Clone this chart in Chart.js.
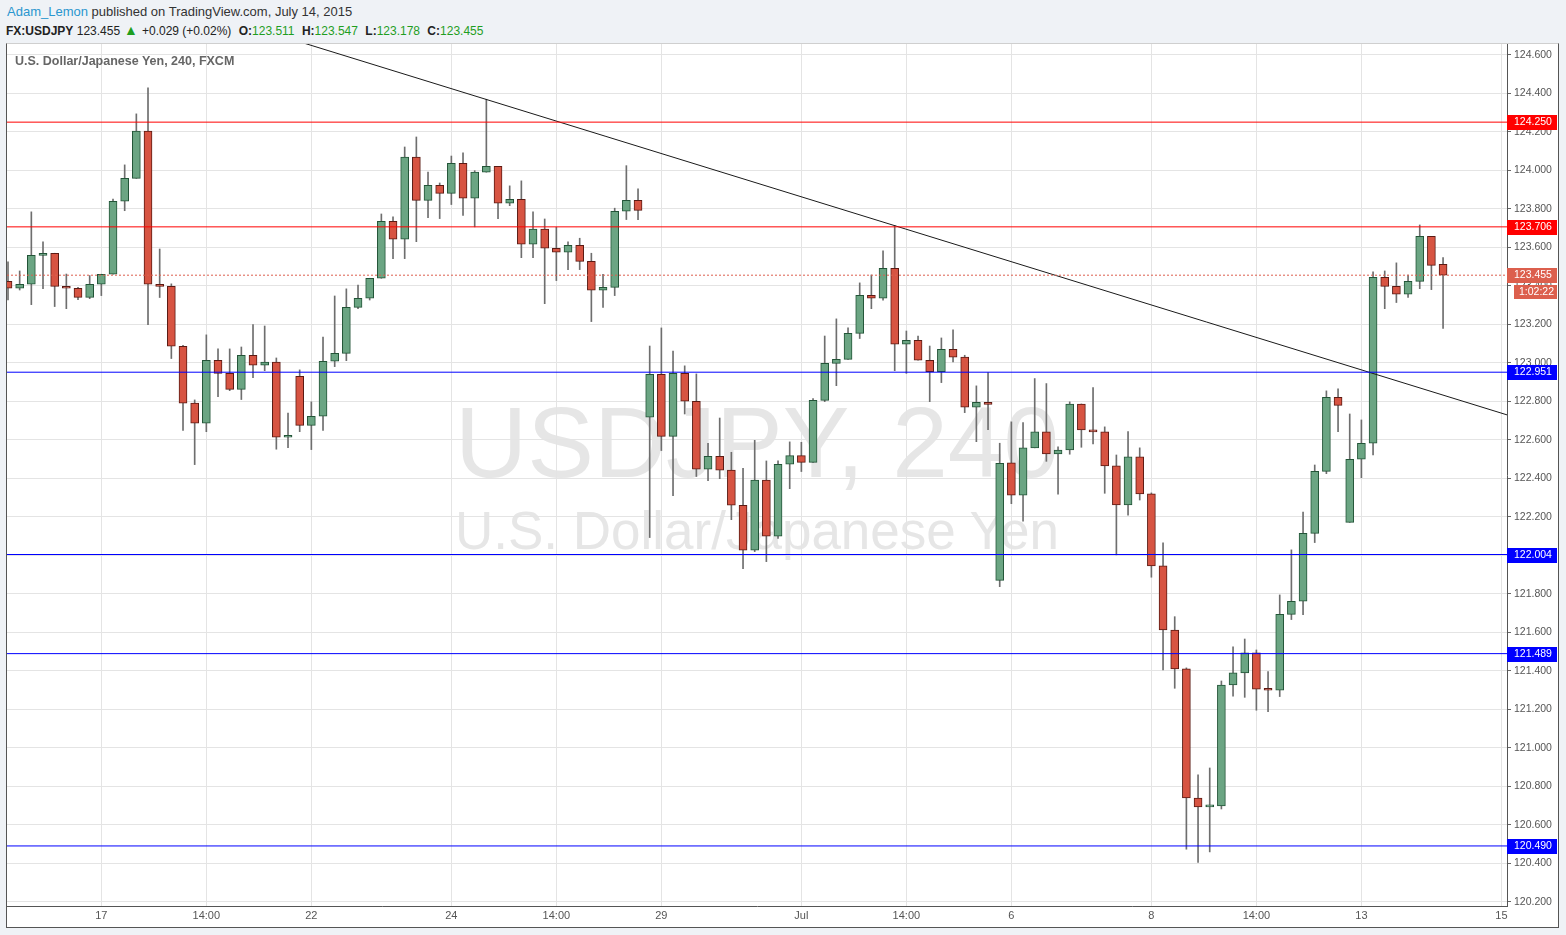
<!DOCTYPE html>
<html><head><meta charset="utf-8">
<script src="https://cdn.jsdelivr.net/npm/chart.js@4.4.0/dist/chart.umd.min.js"></script>
<style>
html,body{margin:0;padding:0;}
body{width:1566px;height:935px;background:#eff2f6;position:relative;overflow:hidden;font-family:"Liberation Sans",Arial,sans-serif;}
#h1{position:absolute;left:7px;top:5px;font-size:13px;line-height:13px;color:#333;white-space:nowrap;}
#h1 .user{color:#2a96cf;}
#h2{position:absolute;left:6px;top:24px;font-size:12px;line-height:12px;color:#222;white-space:nowrap;}
#h2 span{margin-right:4px;}
#h2 .g{color:#1f9e1f;}
#h2 .tri{color:#1f9e1f;font-size:14px;line-height:12px;}
#box{position:absolute;left:6px;top:43px;width:1551px;height:883px;border:1px solid #555;border-top-color:#cfcfcf;background:#fff;}
.wm{position:absolute;left:0;width:1500px;text-align:center;white-space:nowrap;color:#e6e6e6;}
#wm1{font-size:100px;line-height:100px;top:348px;}
#wm2{font-size:53px;line-height:53px;top:460px;}
#title{position:absolute;left:8px;top:11px;font-size:12.5px;line-height:12px;font-weight:bold;color:#666;white-space:nowrap;z-index:3;}
#c{position:absolute;left:0;top:0;z-index:2;}
</style></head>
<body>
<div id="h1"><span class="user">Adam_Lemon</span> published on TradingView.com, July 14, 2015</div>
<div id="h2"><b>FX:USDJPY</b> <span>123.455</span><span class="tri">▲</span><span>+0.029 (+0.02%)</span> <b>O:</b><span class="g">123.511</span> <b>H:</b><span class="g">123.547</span> <b>L:</b><span class="g">123.178</span> <b>C:</b><span class="g">123.455</span></div>
<div id="box">
  <div class="wm" id="wm1">USDJPY, 240</div>
  <div class="wm" id="wm2">U.S. Dollar/Japanese Yen</div>
  <div id="title">U.S. Dollar/Japanese Yen, 240, FXCM</div>
  <canvas id="c" width="1551" height="883"></canvas>
</div>
<script>
// ---- data ----
const opens = [
123.423,123.387,123.408,123.558,123.569,123.397,123.387,123.340,123.408,123.460,
123.839,123.958,124.203,123.408,123.397,123.086,122.790,122.686,123.013,122.945,
122.862,123.039,122.987,123.003,122.613,122.930,122.675,122.722,123.008,123.049,
123.288,123.335,123.439,123.735,123.642,124.068,123.844,123.922,123.880,124.036,
123.855,123.990,124.021,123.829,123.849,123.616,123.694,123.595,123.574,123.610,
123.527,123.377,123.392,123.787,123.844,122.717,122.940,122.618,122.945,122.800,
122.447,122.514,122.442,122.260,122.026,122.390,122.099,122.473,122.518,122.483,
122.805,122.997,123.018,123.153,123.351,123.335,123.491,123.096,123.117,123.013,
122.954,123.070,123.029,122.769,122.795,121.870,122.480,122.312,122.558,122.641,
122.526,122.547,122.786,122.651,122.641,122.464,122.261,122.511,122.319,121.945,
121.612,121.410,120.739,120.693,120.698,121.326,121.389,121.493,121.304,121.299,
121.693,121.761,122.114,122.436,122.821,122.171,122.499,122.582,123.444,123.397,
123.356,123.423,123.657,123.511];
const highs = [
123.524,123.477,123.784,123.628,123.569,123.461,123.392,123.453,123.460,123.851,
124.028,124.293,124.428,123.591,123.410,123.091,122.807,123.145,123.072,123.072,
123.082,123.198,123.191,123.025,122.739,122.963,122.797,123.134,123.347,123.384,
123.404,123.439,123.773,123.758,124.121,124.173,123.991,123.934,124.074,124.090,
123.998,124.369,124.021,123.919,123.945,123.784,123.747,123.704,123.628,123.647,
123.569,123.460,123.803,124.024,123.903,123.087,123.181,123.061,122.984,122.942,
122.582,122.713,122.535,122.452,122.597,122.490,122.490,122.589,122.587,122.814,
123.139,123.228,123.181,123.415,123.456,123.581,123.713,123.165,123.139,123.087,
123.129,123.171,123.039,122.880,122.949,122.582,122.693,122.689,122.918,122.892,
122.563,122.797,122.786,122.871,122.667,122.521,122.642,122.558,122.324,122.064,
121.681,121.415,120.859,120.895,121.347,121.524,121.565,121.508,121.396,121.794,
122.028,122.225,122.469,122.854,122.864,122.734,122.703,123.472,123.477,123.519,
123.455,123.716,123.657,123.547];
const lows = [
123.326,123.378,123.302,123.385,123.292,123.281,123.328,123.333,123.349,123.460,
123.790,123.958,123.198,123.339,123.022,122.648,122.471,122.642,122.824,122.855,
122.809,122.923,122.959,122.551,122.559,122.642,122.549,122.648,122.980,123.011,
123.281,123.326,123.439,123.541,123.541,123.629,123.754,123.749,123.822,123.765,
123.706,123.990,123.749,123.816,123.546,123.546,123.307,123.427,123.484,123.484,
123.214,123.287,123.349,123.744,123.744,122.092,122.544,122.310,122.734,122.409,
122.388,122.398,122.185,121.931,122.019,121.967,122.088,122.346,122.435,122.483,
122.798,122.881,123.018,123.126,123.281,123.325,122.959,122.945,123.013,122.798,
122.897,123.004,122.741,122.590,122.653,121.837,122.268,122.177,122.558,122.488,
122.317,122.525,122.561,122.578,122.322,122.002,122.208,122.287,121.886,121.404,
121.309,120.473,120.405,120.459,120.682,121.268,121.262,121.195,121.188,121.266,
121.666,121.692,122.066,122.424,122.642,122.171,122.403,122.521,123.281,123.313,
123.339,123.385,123.380,123.178];
const closes = [
123.387,123.408,123.558,123.569,123.397,123.387,123.340,123.408,123.460,123.839,
123.958,124.203,123.408,123.397,123.086,122.790,122.686,123.013,122.945,122.862,
123.039,122.987,123.003,122.613,122.618,122.675,122.722,123.008,123.049,123.288,
123.335,123.439,123.735,123.642,124.068,123.844,123.922,123.880,124.036,123.855,
123.990,124.021,123.829,123.849,123.616,123.694,123.595,123.574,123.610,123.527,
123.377,123.392,123.787,123.844,123.792,122.940,122.618,122.945,122.800,122.447,
122.514,122.442,122.260,122.026,122.390,122.099,122.473,122.518,122.483,122.805,
122.997,123.018,123.153,123.351,123.335,123.491,123.096,123.117,123.013,122.954,
123.070,123.029,122.769,122.795,122.784,122.478,122.312,122.558,122.641,122.526,
122.547,122.786,122.651,122.641,122.464,122.261,122.511,122.319,121.945,121.612,
121.410,120.739,120.693,120.698,121.326,121.389,121.493,121.304,121.299,121.693,
121.761,122.114,122.436,122.821,122.779,122.499,122.582,123.444,123.397,123.356,
123.423,123.657,123.506,123.455];

const xTickIdx    = [8, 17, 26, 38, 47, 56, 68, 77, 86, 98, 107, 116, 128];
const xTickLabels = ["17","14:00","22","24","14:00","29","Jul","14:00","6","8","14:00","13","15"];
const yTicks = [120.2,120.4,120.6,120.8,121.0,121.2,121.4,121.6,121.8,122.0,122.2,122.4,122.6,122.8,123.0,123.2,123.4,123.6,123.8,124.0,124.2,124.4,124.6];

const levels = [124.250, 123.706, 122.951, 122.004, 121.489, 120.490];
const lastPrice = 123.455;
const countdown = "1:02:22";
const trendX = [25.4, 128.5];
const trendY = [124.660, 122.729];

// ---- styles / view ----
const xMin = -0.086, xMax = 128.48;
const yMin = 120.178, yMax = 124.656;
const levelColors = ['#ff0000','#ff0000','#0000ff','#0000ff','#0000ff','#0000ff'];
const lastColor = '#dc5f4d';
const upFill = '#6ba583', upLine = '#225437';
const dnFill = '#d75442', dnLine = '#5b1a13';

const isUp = closes.map((c,i)=>c>=opens[i]);
const wickData = highs.map((h,i)=>({x:i, y:[lows[i], h]}));
const bodyData = opens.map((o,i)=>({x:i, y:[o, closes[i]]}));

const lineDatasets = levels.map((v,i)=>({
  type:'line', data:[{x:xMin,y:v},{x:xMax,y:v}], borderColor:levelColors[i],
  borderWidth:1, pointRadius:0, order:0, fill:false
}));
lineDatasets.push({type:'line', data:[{x:xMin,y:lastPrice},{x:xMax,y:lastPrice}], borderColor:lastColor,
  borderWidth:1, borderDash:[2,2], pointRadius:0, order:0, fill:false});
lineDatasets.push({type:'line', data:trendX.map((x,i)=>({x:x,y:trendY[i]})), borderColor:'#1a1a1a',
  borderWidth:1, pointRadius:0, order:0, fill:false});

const axisFont = {family:'"Liberation Sans", Arial, sans-serif', size:10.5};

const labelPlugin = {
  id:'levelLabels',
  afterDraw(chart){
    const ctx = chart.ctx, ys = chart.scales.y, ca = chart.chartArea;
    ctx.save();
    ctx.font = '10.5px "Liberation Sans", Arial, sans-serif';
    ctx.textBaseline = 'middle';
    const drawBox = (y, col, txt) => {
      ctx.fillStyle = col;
      ctx.fillRect(ca.right, Math.round(y) - 7, 50, 15);
      ctx.fillStyle = '#fff';
      ctx.fillText(txt, ca.right + 7, Math.round(y) + 0.5);
    };
    levels.forEach((v,i)=>{ drawBox(ys.getPixelForValue(v), levelColors[i], v.toFixed(3)); });
    const yl = ys.getPixelForValue(lastPrice);
    drawBox(yl, lastColor, lastPrice.toFixed(3));
    ctx.fillStyle = lastColor;
    ctx.fillRect(ca.right + 7, Math.round(yl) + 10, 43, 14);
    ctx.fillStyle = '#fff';
    ctx.fillText(countdown, ca.right + 12, Math.round(yl) + 17.5);
    ctx.restore();
  }
};

new Chart(document.getElementById('c'), {
  type:'bar',
  data:{
    datasets:[
      ...lineDatasets,
      {type:'bar', data:bodyData, grouped:false, barThickness:8, order:1,
       backgroundColor:isUp.map(u=>u?upFill:dnFill), borderColor:isUp.map(u=>u?upLine:dnLine),
       borderWidth:1, borderSkipped:false, minBarLength:2},
      {type:'bar', data:wickData, grouped:false, barThickness:1, order:2,
       backgroundColor:'#6e6e6e', borderWidth:0}
    ]
  },
  options:{
    responsive:false, animation:false, events:[],
    layout:{padding:0},
    plugins:{legend:{display:false}, tooltip:{enabled:false}, title:{display:false}},
    scales:{
      x:{type:'linear', position:'bottom', min:xMin, max:xMax, offset:false,
         grid:{offset:false, color:'#e4e4e4', drawTicks:false},
         border:{color:'#555', width:1},
         afterBuildTicks:(s)=>{ s.ticks = xTickIdx.map(v=>({value:v})); },
         afterFit:(s)=>{ s.height = 21; s.paddingLeft = 0; s.paddingRight = 0; },
         ticks:{autoSkip:false, maxRotation:0, padding:3, color:'#555',
                font:{family:'"Liberation Sans", Arial, sans-serif', size:11},
                callback:(v,i)=>xTickLabels[i]}},
      y:{type:'linear', position:'right', min:yMin, max:yMax,
         grid:{color:'#e4e4e4', tickColor:'#666', tickLength:4, drawTicks:true},
         border:{color:'#555', width:1},
         afterBuildTicks:(s)=>{ s.ticks = yTicks.map(v=>({value:v})); },
         afterFit:(s)=>{ s.width = 51; s.paddingTop = 0; s.paddingBottom = 0; },
         ticks:{padding:3, color:'#555', font:axisFont, callback:(v)=>Number(v).toFixed(3)}}
    }
  },
  plugins:[labelPlugin]
});
</script>
</body></html>
